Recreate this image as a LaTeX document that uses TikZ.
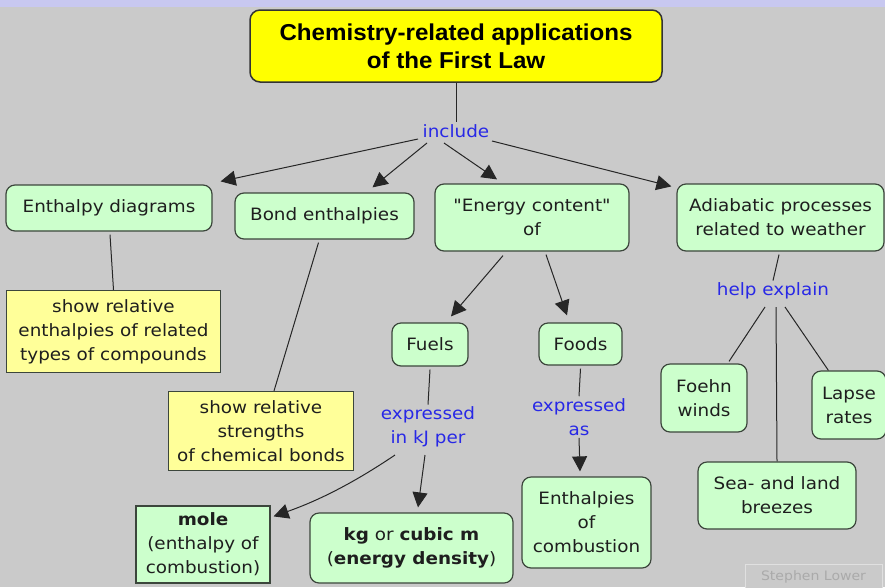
\documentclass[tikz,border=0pt]{standalone}
\usepackage{fontspec}
\setmainfont[FakeStretch=1.08]{DejaVu Sans}
\newfontfamily\plainq[FakeStretch=1.08,Ligatures=TeXOff]{DejaVu Sans}
\newfontfamily\titlefont[FakeStretch=1.05]{Liberation Sans}
\usetikzlibrary{arrows.meta}
\definecolor{bg}{RGB}{202,202,202}
\definecolor{band}{RGB}{200,200,240}
\definecolor{mint}{RGB}{204,255,204}
\definecolor{paleyel}{RGB}{255,255,153}
\definecolor{titleyel}{RGB}{255,255,0}
\definecolor{boxline}{RGB}{60,70,60}
\definecolor{txt}{RGB}{30,30,30}
\definecolor{lblblue}{RGB}{40,40,230}
\definecolor{wm}{RGB}{170,170,170}
\begin{document}
\begin{tikzpicture}[x=1pt,y=-1pt,
  font=\fontsize{17}{24}\selectfont,
  gbox/.style={draw=boxline, line width=1.2pt, fill=mint, rounded corners=9pt,
    align=center, inner sep=0pt, text=txt},
  gsq/.style={draw=boxline, line width=1.2pt, fill=mint,
    align=center, inner sep=0pt, text=txt},
  ybox/.style={draw=boxline, line width=1.2pt, fill=paleyel,
    align=center, inner sep=0pt, text=txt},
  lbl/.style={text=lblblue, align=center, inner sep=2pt},
  conn/.style={draw=black!85, line width=1pt},
  arr/.style={conn, -{Triangle[length=15pt,width=15pt]}}]
\useasboundingbox (0,0) rectangle (885,587);
\fill[bg] (0,0) rectangle (885,587);
\fill[band] (0,0) rectangle (885,7);

% nodes
\node[draw=black!80, line width=1.5pt, fill=titleyel, rounded corners=10pt,
  minimum width=412pt, minimum height=72pt, inner sep=0pt, align=center,
  font=\titlefont\bfseries\fontsize{23}{28}\selectfont] (title) at (456,46)
  {Chemistry-related applications\\of the First Law};
\node[lbl] (include) at (456,131) {include};

\node[gbox, minimum width=206pt, minimum height=46pt] (ed) at (109,208) {Enthalpy diagrams};
\node[gbox, minimum width=179pt, minimum height=46pt] (be) at (324.5,216) {Bond enthalpies};
\node[gbox, minimum width=194pt, minimum height=67pt] (ec) at (532,217.5) {{\plainq\symbol{34}}Energy content{\plainq\symbol{34}}\\of};
\node[gbox, minimum width=207pt, minimum height=67pt] (ad) at (780.5,217.5) {Adiabatic processes\\related to weather};

\node[ybox, minimum width=214pt, minimum height=82pt] (y1) at (113.5,331.5)
  {show relative\\enthalpies of related\\types of compounds};
\node[ybox, minimum width=185pt, minimum height=79pt] (y2) at (261,431)
  {show relative\\strengths\\of chemical bonds};

\node[gbox, minimum width=76pt, minimum height=43pt] (fuels) at (430,344.5) {Fuels};
\node[gbox, minimum width=83pt, minimum height=42pt] (foods) at (580.5,344) {Foods};

\node[lbl] (exp1) at (428,427) {expressed\\in kJ per};
\node[lbl] (exp2) at (579,417) {expressed\\as};

\node[gsq, minimum width=134pt, minimum height=77pt] (mole) at (203,544.5)
  {\textbf{mole}\\(enthalpy of\\combustion)};
\node[gbox, minimum width=203pt, minimum height=70pt] (kg) at (411.5,548)
  {\textbf{kg} or \textbf{cubic m}\\(\textbf{energy density})};
\node[gbox, minimum width=129pt, minimum height=91pt] (eoc) at (586.5,522.5)
  {Enthalpies\\of\\combustion};

\node[lbl] (help) at (773,291) {help explain};
\node[gbox, minimum width=86pt, minimum height=68pt] (foehn) at (704,398) {Foehn\\winds};
\node[gbox, minimum width=74pt, minimum height=68pt] (lapse) at (849,405) {Lapse\\rates};
\node[gbox, minimum width=158pt, minimum height=67pt] (sea) at (777,495.5) {Sea- and land\\breezes};

\node[draw=black!12, line width=1pt, fill=bg, minimum width=137pt, minimum height=26pt,
  inner sep=0pt, text=wm, font=\fontsize{13}{15}\selectfont] (wmark) at (813.5,577) {Stephen Lower};

% connectors
\draw[conn] (title.south) -- (include.north);
\draw[arr] ([shift={(-38,8)}]include.center) -- ([shift={(8,-3)}]ed.north east);
\draw[arr] ([shift={(-29,12)}]include.center) -- ([shift={(48,-5)}]be.north);
\draw[arr] ([shift={(-12,12)}]include.center) -- ([shift={(-35,-4)}]ec.north);
\draw[arr] ([shift={(36,10)}]include.center) -- ([shift={(-5,3)}]ad.north west);

\draw[conn] ([shift={(1,3)}]ed.south) -- (y1.north);
\draw[conn] ([shift={(-6,3)}]be.south) -- ([shift={(13,0)}]y2.north);

\draw[arr] ([shift={(-29,4)}]ec.south) -- ([shift={(21,-6)}]fuels.north);
\draw[arr] ([shift={(14,3)}]ec.south) -- ([shift={(-13.5,-7)}]foods.north);

\draw[conn] ([shift={(0,3)}]fuels.south) -- (exp1.north);
\draw[arr] ([shift={(-33,28)}]exp1.center) .. controls (355,482) and (320,500) .. ([shift={(3,11)}]mole.north east);
\draw[arr] ([shift={(-3,28)}]exp1.center) -- ([shift={(6.5,-5)}]kg.north);

\draw[conn] ([shift={(0,3)}]foods.south) -- (exp2.north);
\draw[arr] (exp2.south) -- ([shift={(-6.5,-5)}]eoc.north);

\draw[conn] ([shift={(-1.5,3)}]ad.south) -- (help.north);
\draw[conn] ([shift={(-8,16)}]help.center) -- ([shift={(25,-2)}]foehn.north);
\draw[conn] ([shift={(3,16)}]help.center) -- (sea.north);
\draw[conn] ([shift={(12,16)}]help.center) -- ([shift={(17,0)}]lapse.north west);
\end{tikzpicture}
\end{document}
